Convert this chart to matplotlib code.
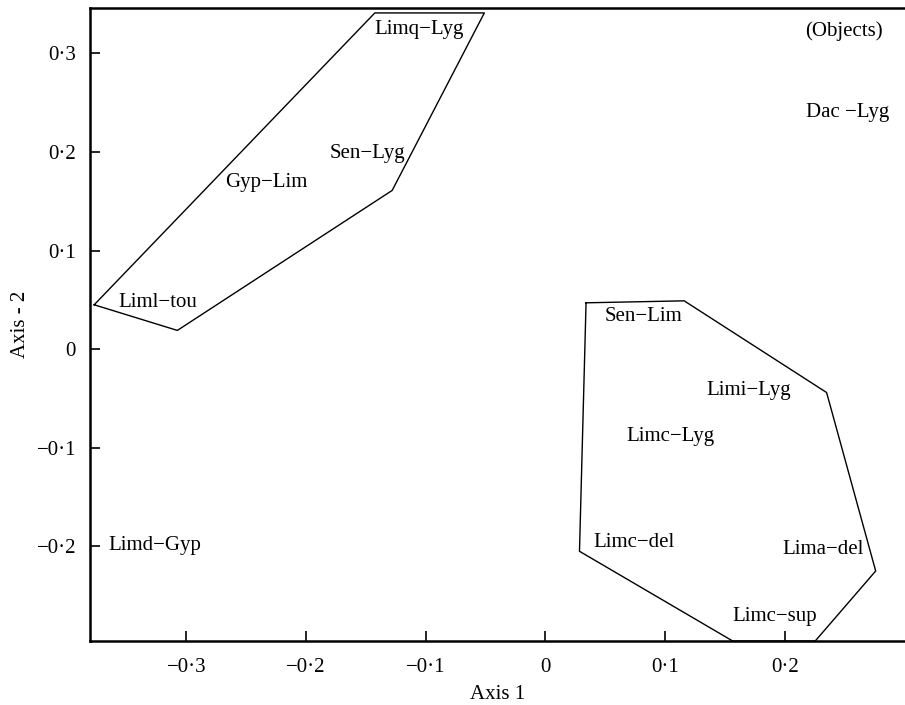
import matplotlib
matplotlib.use('Agg')
import matplotlib.pyplot as plt
from matplotlib.ticker import FuncFormatter

plt.rcParams['font.family'] = ['Liberation Serif', 'DejaVu Serif']

# hull 1 (upper left group)
hull1_x = [-0.377, -0.1425, -0.051, -0.128, -0.3075, -0.377]
hull1_y = [0.045, 0.341, 0.341, 0.161, 0.019, 0.045]

# hull 2 (lower right group)
hull2_x = [0.034, 0.116, 0.235, 0.276, 0.2255, 0.1565, 0.0285, 0.034]
hull2_y = [0.047, 0.049, -0.044, -0.225, -0.296, -0.296, -0.205, 0.047]

# object labels (left edge, vertical centre)
names = ['Limq\u2212Lyg', 'Sen\u2212Lyg', 'Gyp\u2212Lim', 'Liml\u2212tou', '(Objects)',
         'Dac \u2212Lyg', 'Sen\u2212Lim', 'Limi\u2212Lyg', 'Limc\u2212Lyg', 'Limc\u2212del',
         'Lima\u2212del', 'Limc\u2212sup', 'Limd\u2212Gyp']
lab_x = [-0.1425, -0.180, -0.268, -0.357, 0.2173, 0.2179, 0.0495, 0.1349, 0.0676,
         0.0403, 0.1983, 0.1566, -0.365]
lab_y = [0.324, 0.198, 0.169, 0.047, 0.3225, 0.240, 0.0328, -0.0423, -0.0882,
         -0.196, -0.203, -0.2715, -0.1988]

xticks = [-0.3, -0.2, -0.1, 0, 0.1, 0.2]
yticks = [-0.2, -0.1, 0, 0.1, 0.2, 0.3]


def fmt(v, pos):
    if abs(v) < 1e-9:
        return '0'
    s = '%.1f' % v
    return s.replace('-', '\u2212').replace('.', '\u00b7')


fig = plt.figure(figsize=(9.05, 7.05), dpi=100)
ax = fig.add_axes([90 / 905, 1 - 641 / 705, 1 - 90 / 905, (641 - 8) / 705])

ax.plot(hull1_x, hull1_y, color='black', lw=1.0)
ax.plot(hull2_x, hull2_y, color='black', lw=1.0)

for n, x, y in zip(names, lab_x, lab_y):
    ax.text(x, y, n, fontsize=15, ha='left', va='center')

ax.set_xlim(-0.3805, 0.3005)
ax.set_ylim(-0.296, 0.346)
ax.set_xticks(xticks)
ax.set_yticks(yticks)
ax.xaxis.set_major_formatter(FuncFormatter(fmt))
ax.yaxis.set_major_formatter(FuncFormatter(fmt))
ax.tick_params(direction='in', length=7, width=1.2, labelsize=15, pad=10)
ax.tick_params(axis='x', pad=12)

for s in ['left', 'bottom', 'top']:
    ax.spines[s].set_linewidth(1.8)
ax.spines['right'].set_visible(False)

ax.set_xlabel('Axis 1', fontsize=15, labelpad=6)
ax.set_ylabel('Axis - 2', fontsize=15, labelpad=5)

fig.savefig('out.png', dpi=100)
